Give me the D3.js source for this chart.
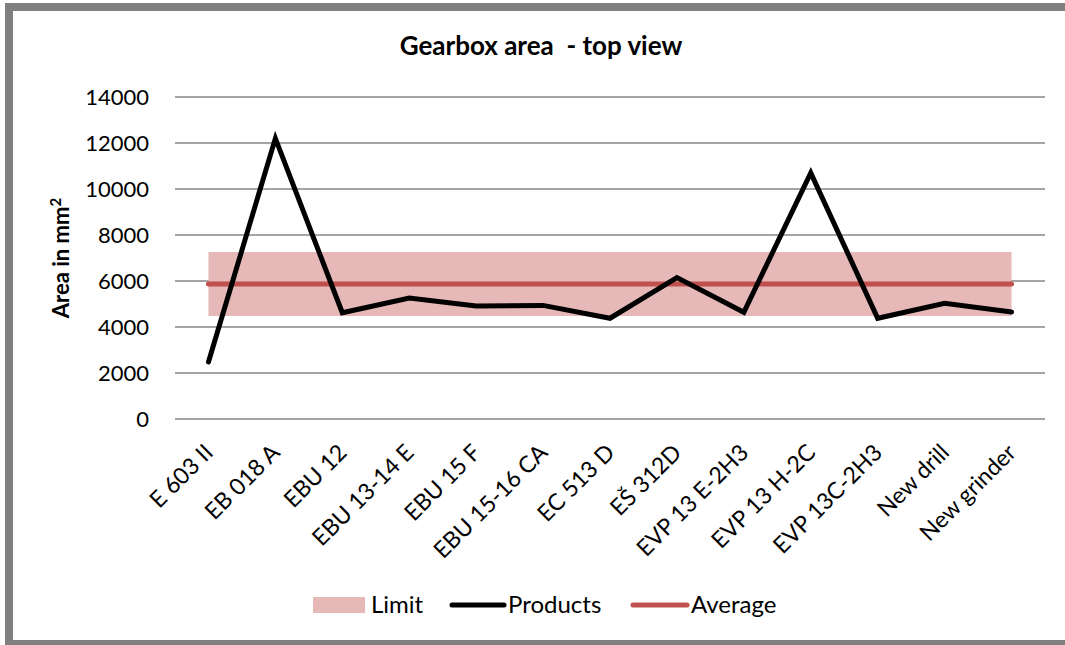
<!DOCTYPE html>
<html>
<head>
<meta charset="utf-8">
<script src="https://cdn.jsdelivr.net/npm/d3@7"></script>
<style>
  body { margin: 0; background: #fff; }
  svg { display: block; font-family: Lato, "Open Sans", sans-serif; }
</style>
</head>
<body>
<script>
const categories = ["E 603 II", "EB 018 A", "EBU 12", "EBU 13-14 E", "EBU 15 F", "EBU 15-16 CA",
  "EC 513 D", "EŠ 312D", "EVP 13 E-2H3", "EVP 13 H-2C", "EVP 13C-2H3", "New drill", "New grinder"];
const products = [2480, 12200, 4620, 5260, 4910, 4940, 4380, 6150, 4640, 10700, 4380, 5030, 4650];
const average = categories.map(() => 5870);
const limitLow = categories.map(() => 4480);
const limitHigh = categories.map(() => 7260);
const yTicks = [0, 2000, 4000, 6000, 8000, 10000, 12000, 14000];

const width = 1065, height = 645;
const margin = {top: 97, right: 20, bottom: 226, left: 175};

const svg = d3.select('body')
  .append('svg')
  .attr('width', width)
  .attr('height', height);

// outer frame
svg.append('rect')
  .attr('x', 9)
  .attr('y', 7)
  .attr('width', 1070)
  .attr('height', 637)
  .attr('fill', 'none')
  .attr('stroke', '#808080')
  .attr('stroke-width', 8);

const x = d3.scaleBand()
  .domain(categories)
  .range([margin.left, width - margin.right]);

const y = d3.scaleLinear()
  .domain([0, 14000])
  .range([height - margin.bottom, margin.top]);

const cx = d => x(d) + x.bandwidth() / 2;

// grid lines
svg.append('g')
  .selectAll('line')
  .data(yTicks)
  .enter()
  .append('line')
  .attr('x1', margin.left)
  .attr('x2', width - margin.right)
  .attr('y1', d => y(d))
  .attr('y2', d => y(d))
  .attr('stroke', '#878787')
  .attr('stroke-width', 1.5);

// y tick labels
svg.append('g')
  .selectAll('text')
  .data(yTicks)
  .enter()
  .append('text')
  .attr('x', 149)
  .attr('y', d => y(d))
  .attr('dy', '0.35em')
  .attr('text-anchor', 'end')
  .attr('font-size', 22)
  .attr('fill', '#000')
  .text(d => d);

// y title
svg.append('text')
  .attr('transform', 'translate(69,258) rotate(-90)')
  .attr('text-anchor', 'middle')
  .attr('font-size', 22)
  .attr('font-weight', 'bold')
  .html('Area in mm<tspan dy="-8" font-size="15">2</tspan>');

// title
svg.append('text')
  .attr('x', 541)
  .attr('y', 55)
  .attr('text-anchor', 'middle')
  .attr('font-size', 26)
  .attr('font-weight', 'bold')
  .style('white-space', 'pre')
  .text('Gearbox area  - top view');

// limit band
const band = categories.map((c, i) => ({c, lo: limitLow[i], hi: limitHigh[i]}));
svg.append('path')
  .datum(band)
  .attr('fill', '#e6b9b8')
  .attr('d', d3.area()
    .x(d => cx(d.c))
    .y0(d => y(d.lo))
    .y1(d => y(d.hi)));

// average line
svg.append('path')
  .datum(categories.map((c, i) => [cx(c), y(average[i])]))
  .attr('fill', 'none')
  .attr('stroke', '#c0504d')
  .attr('stroke-width', 5)
  .attr('stroke-linecap', 'round')
  .attr('d', d3.line());

// products line
svg.append('path')
  .datum(categories.map((c, i) => [cx(c), y(products[i])]))
  .attr('fill', 'none')
  .attr('stroke', '#000')
  .attr('stroke-width', 5)
  .attr('stroke-linecap', 'round')
  .attr('stroke-linejoin', 'miter')
  .attr('d', d3.line());

// x labels
svg.append('g')
  .selectAll('text')
  .data(categories)
  .enter()
  .append('text')
  .attr('transform', d => `translate(${cx(d) + 6},${454}) rotate(-45)`)
  .attr('text-anchor', 'end')
  .attr('font-size', 23)
  .text(d => d);

// legend
const leg = svg.append('g').attr('font-size', 24);
leg.append('rect')
  .attr('x', 313).attr('y', 597).attr('width', 52).attr('height', 16)
  .attr('fill', '#e6b9b8');
leg.append('text').attr('x', 371).attr('y', 605).attr('dy', '0.35em').text('Limit');
leg.append('line')
  .attr('x1', 452).attr('x2', 504).attr('y1', 605).attr('y2', 605)
  .attr('stroke', '#000').attr('stroke-width', 5).attr('stroke-linecap', 'round');
leg.append('text').attr('x', 508).attr('y', 605).attr('dy', '0.35em').text('Products');
leg.append('line')
  .attr('x1', 633).attr('x2', 687).attr('y1', 605).attr('y2', 605)
  .attr('stroke', '#c0504d').attr('stroke-width', 5).attr('stroke-linecap', 'round');
leg.append('text').attr('x', 691).attr('y', 605).attr('dy', '0.35em').text('Average');
</script>
</body>
</html>
